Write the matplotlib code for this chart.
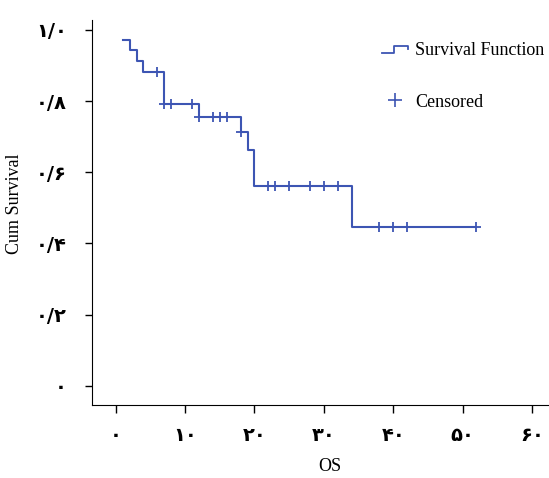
import numpy as np
import matplotlib.pyplot as plt
from matplotlib.lines import Line2D
from matplotlib.legend_handler import HandlerBase

# Kaplan-Meier steps (time of event, survival after it)
event_times = [1, 2, 3, 4, 7, 12, 18, 19, 20, 34, 52]
survival = [0.971, 0.943, 0.912, 0.882, 0.791, 0.756, 0.712, 0.662, 0.561, 0.447, 0.447]
censor_times = [6, 7, 8, 11, 12, 14, 15, 16, 18, 22, 23, 25, 28, 30, 32, 38, 40, 42, 52]

x_ticks = [0, 10, 20, 30, 40, 50, 60]
x_labels = ['۰', '۱۰', '۲۰', '۳۰', '۴۰', '۵۰', '۶۰']
y_ticks = [0, 0.2, 0.4, 0.6, 0.8, 1.0]
y_labels = ['۰', '۰/۲', '۰/۴', '۰/۶', '۰/۸', '۱/۰']

blue = '#3d55b3'
serif = 'Liberation Serif'


class StepHandler(HandlerBase):
    def create_artists(self, legend, orig_handle, xd, yd, width, height, fontsize, trans):
        xs = [xd, xd + width * 0.45, xd + width * 0.45, xd + width, xd + width]
        ys = [yd + height * 0.2, yd + height * 0.2, yd + height * 0.75, yd + height * 0.75, yd + height * 0.5]
        ln = Line2D(xs, ys, color=blue, lw=1.3, transform=trans)
        return [ln]


fig = plt.figure(figsize=(5.49, 4.78), dpi=100)
ax = fig.add_axes([0.167, 0.1527, 0.831, 0.8053])

ax.step(event_times, survival, where='post', color=blue, lw=1.5)

idx = np.searchsorted(event_times, censor_times, side='right') - 1
cens_y = np.array(survival)[idx]
ax.plot(censor_times, cens_y, ls='none', marker='+', ms=6.5, mew=1.3, color=blue)

ax.set_xlim(-3.46, 62.3)
ax.set_ylim(-0.054, 1.0275)
ax.set_xticks(x_ticks)
ax.set_xticklabels(x_labels, fontsize=14, fontweight='bold', family='DejaVu Sans')
ax.set_yticks(y_ticks)
ax.set_yticklabels(y_labels, fontsize=14, fontweight='bold', family='DejaVu Sans')
ax.tick_params(axis='x', length=6, width=1, pad=9)
ax.tick_params(axis='y', length=5, width=1, pad=13)
for s in ['top', 'right']:
    ax.spines[s].set_visible(False)

ax.set_xlabel('OS', fontsize=13, family=serif, va='center')
ax.set_ylabel('Cum Survival', fontsize=13, family=serif, va='center')
ax.xaxis.set_label_coords(0.522, -0.161)
ax.yaxis.set_label_coords(-0.170, 0.522)

h1 = Line2D([], [], color=blue)
h2 = Line2D([], [], color=blue, ls='none', marker='+', ms=10, mew=1.2)
fig.legend([h1, h2], ['Survival Function', 'Censored'],
           handler_map={h1: StepHandler()},
           loc='upper left', bbox_to_anchor=(366 / 549, 1 - 26 / 478),
           frameon=False, prop={'family': serif, 'size': 13},
           handlelength=1.4, handletextpad=0.4, labelspacing=1.9)

fig.savefig('out.png', dpi=100)
